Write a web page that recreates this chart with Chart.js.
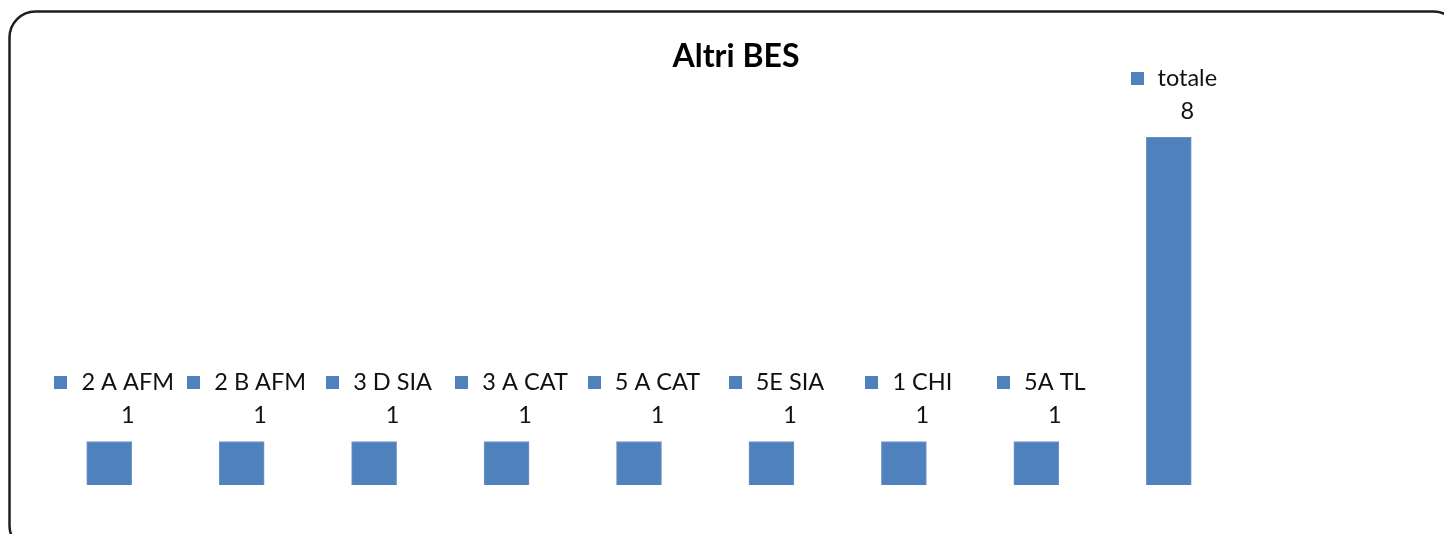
<!DOCTYPE html>
<html>
<head>
<meta charset="utf-8">
<script src="https://cdn.jsdelivr.net/npm/chart.js@4"></script>
<style>
  html, body { margin: 0; padding: 0; background: #fff; }
  #wrap { width: 1444px; height: 534px; }
</style>
</head>
<body>
<div id="wrap"><canvas id="chart"></canvas></div>
<script>
// data
const titleText = 'Altri BES';
const categories = ['2 A AFM', '2 B AFM', '3 D SIA', '3 A CAT', '5 A CAT', '5E SIA', '1 CHI', '5A TL', 'totale'];
const values = [1, 1, 1, 1, 1, 1, 1, 1, 8];

const barColor = '#4F81BD';
const fontName = 'Lato, "Open Sans", sans-serif';

// rounded frame + title, drawn behind the chart
const framePlugin = {
    id: 'frame',
    beforeDraw(chart) {
        let ctx = chart.ctx;
        ctx.save();
        ctx.fillStyle = '#fff';
        ctx.fillRect(0, 0, chart.width, chart.height);
        ctx.strokeStyle = '#1e1e1e';
        ctx.lineWidth = 2.5;
        ctx.beginPath();
        ctx.roundRect(9.5, 11.5, 1450, 540, 26);
        ctx.stroke();

        ctx.fillStyle = '#000';
        ctx.font = 'bold 32px ' + fontName;
        ctx.textAlign = 'center';
        ctx.textBaseline = 'alphabetic';
        ctx.fillText(titleText, 736, 67);
        ctx.restore();
    }
};

// excel-style data labels: legend key + series name, value underneath
const labelPlugin = {
    id: 'barLabels',
    afterDatasetsDraw(chart) {
        let ctx = chart.ctx;
        let meta = chart.getDatasetMeta(0);
        ctx.save();
        ctx.font = '23.5px ' + fontName;
        ctx.textBaseline = 'middle';
        meta.data.forEach((bar, i) => {
            let name = categories[i];
            let tw = ctx.measureText(name).width;
            let keySize = 13, gap = 14;
            let total = keySize + gap + tw;
            let x0 = bar.x - total / 2 + 5;
            let yName = bar.y - 59;
            let yVal = bar.y - 26;

            ctx.fillStyle = barColor;
            ctx.fillRect(Math.round(x0), Math.round(yName - keySize / 2), keySize, keySize);

            ctx.fillStyle = '#111';
            ctx.textAlign = 'left';
            ctx.fillText(name, x0 + keySize + gap, yName);
            ctx.textAlign = 'center';
            ctx.fillText(String(values[i]), x0 + keySize + gap + tw / 2, yVal);
        });
        ctx.restore();
    }
};

new Chart(document.getElementById('chart'), {
    type: 'bar',
    data: {
        labels: categories,
        datasets: [{
            label: 'Altri BES',
            data: values,
            backgroundColor: barColor,
            borderColor: '#7096c8',
            borderWidth: 1,
            barThickness: 45
        }]
    },
    options: {
        responsive: true,
        maintainAspectRatio: false,
        animation: false,
        layout: {
            padding: { left: 43, right: 209, top: 137, bottom: 49 }
        },
        scales: {
            x: { display: false },
            y: { display: false, min: 0, max: 8 }
        },
        plugins: {
            legend: { display: false },
            title: { display: false },
            tooltip: { enabled: false }
        }
    },
    plugins: [framePlugin, labelPlugin]
});
</script>
</body>
</html>
